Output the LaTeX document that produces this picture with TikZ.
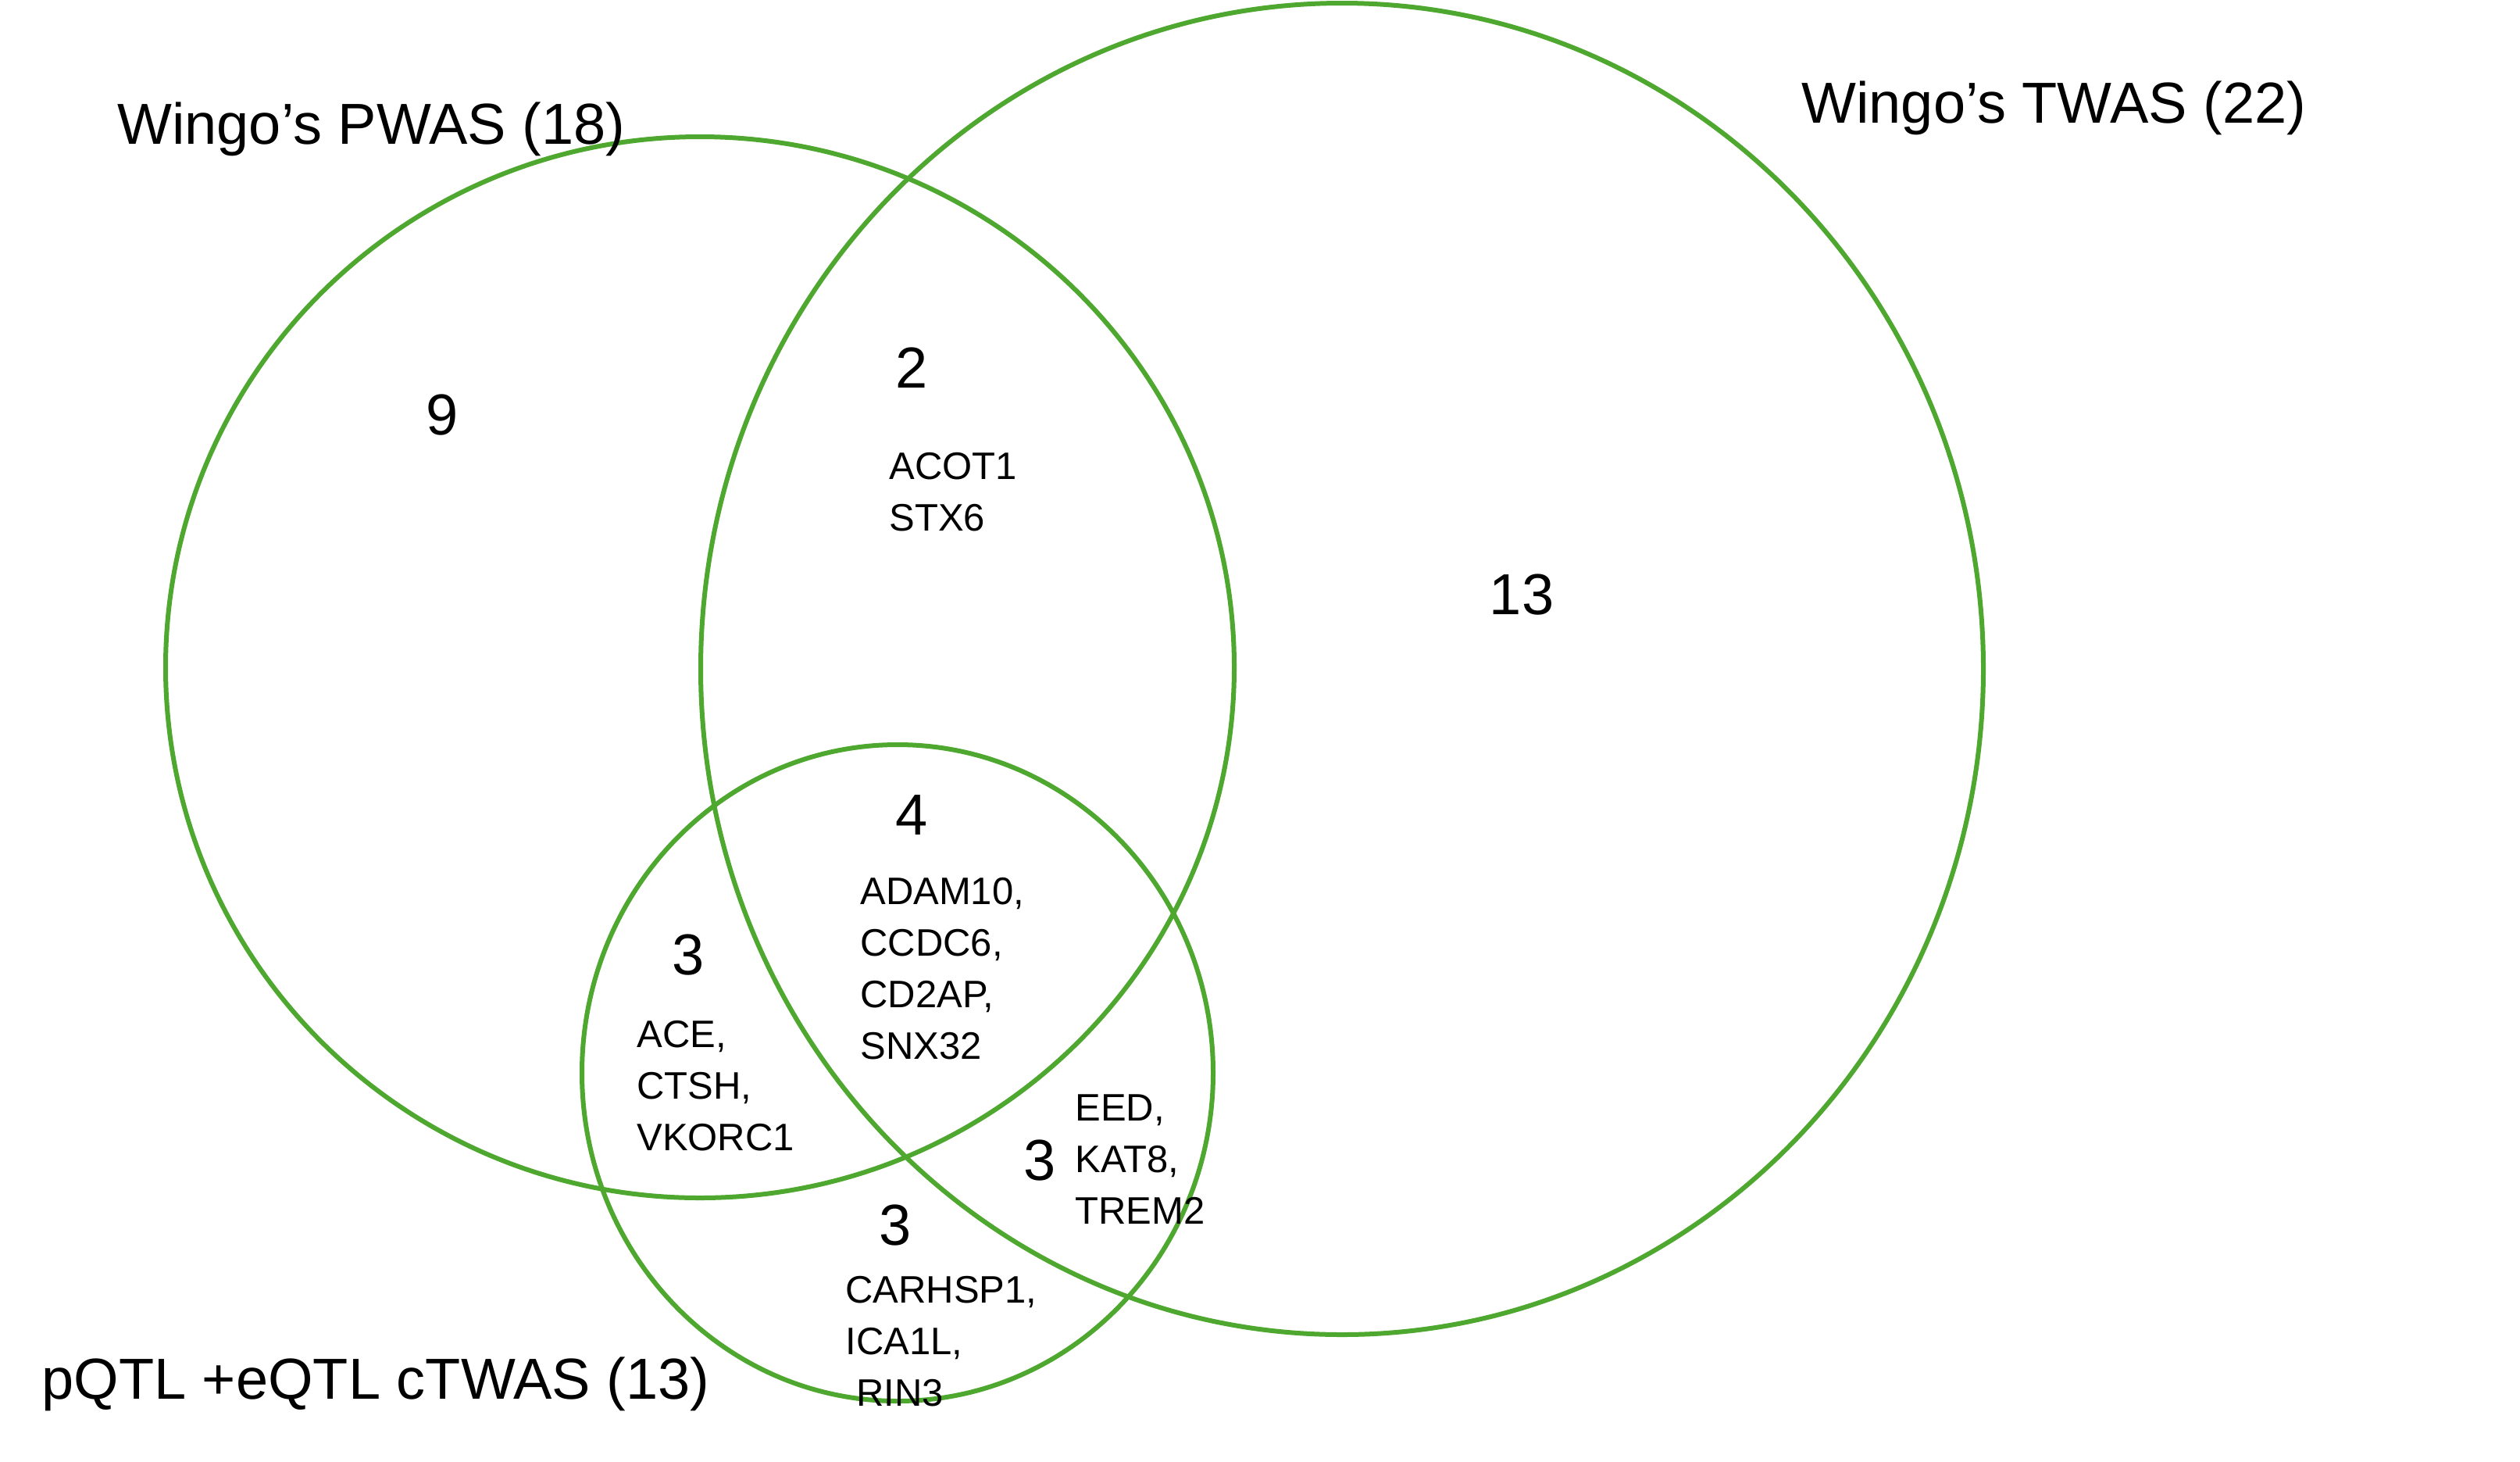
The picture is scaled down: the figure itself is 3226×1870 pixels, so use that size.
\documentclass[tikz,border=0pt]{standalone}
\usepackage{fontspec}
\setmainfont{Liberation Sans}
\definecolor{venngreen}{RGB}{78,167,46}
\tikzset{
  vennline/.style={draw=venngreen, line width=3pt},
  title/.style={anchor=west, inner sep=0pt, font=\fontsize{37}{44}\selectfont},
  count/.style={inner sep=0pt, font=\fontsize{37}{44}\selectfont},
  genes/.style={anchor=west, inner sep=0pt, align=left, font=\fontsize{24.5}{33}\selectfont}
}
\begin{document}
\begin{tikzpicture}[x=0.5pt, y=-0.5pt]
\useasboundingbox[fill=white] (0,0) rectangle (3226,1870);
% sets
\draw[vennline] (896,854) ellipse [x radius=684, y radius=679];
\draw[vennline] (1718,856) ellipse [x radius=821, y radius=852];
\draw[vennline] (1149,1373) ellipse [x radius=404, y radius=420];
% titles
\node[title] (tpwas) at (150,165) {Wingo’s PWAS (18)};
\node[title] (ttwas) at (2306,138) {Wingo’s TWAS (22)};
\node[title] (tctwas) at (53,1771) {pQTL +eQTL cTWAS (13)};
% counts
\node[count] (n9) at (566,531) {9};
\node[count] (n2) at (1167,471) {2};
\node[count] (n13) at (1948,761) {13};
\node[count] (n4) at (1167,1043) {4};
\node[count] (n3a) at (881,1222) {3};
\node[count] (n3b) at (1331,1485) {3};
\node[count] (n3c) at (1146,1568) {3};
% gene lists
\node[genes] (g2) at (1138,630) {ACOT1\\STX6};
\node[genes] (g4) at (1101,1240) {ADAM10,\\CCDC6,\\CD2AP,\\SNX32};
\node[genes] (g3a) at (815,1390) {ACE,\\CTSH,\\VKORC1};
\node[genes] (g3b) at (1376,1484) {EED,\\KAT8,\\TREM2};
\node[genes] (g3c) at (1082,1717) {CARHSP1,\\ICA1L,\\\ RIN3};
\end{tikzpicture}
\end{document}
